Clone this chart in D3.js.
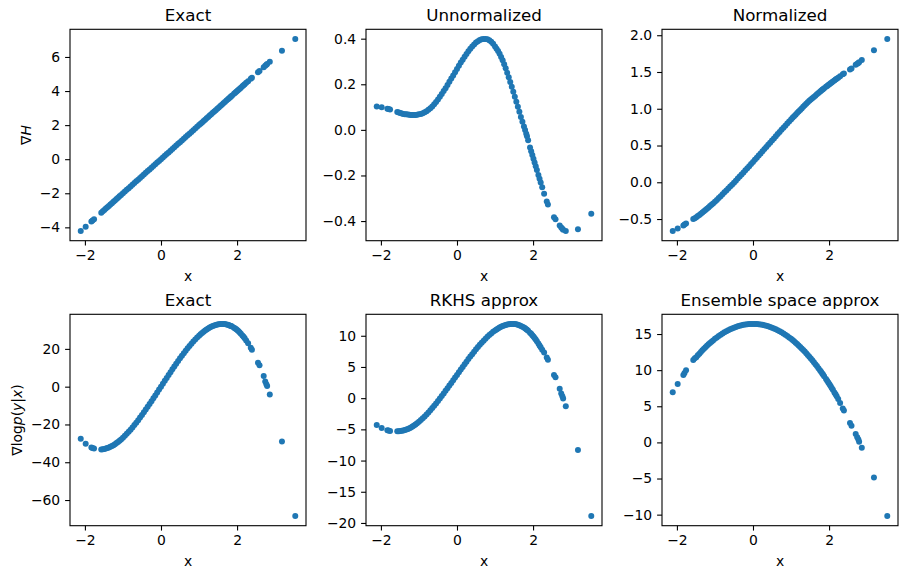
<!DOCTYPE html>
<html>
<head>
<meta charset="utf-8">
<script src="https://cdn.jsdelivr.net/npm/d3@7"></script>
<style>
  body { margin: 0; background: #fff; }
  svg { display: block; font-family: "DejaVu Sans", sans-serif; }
</style>
</head>
<body>
<div id="chart"></div>
<script>
// x samples, shared by all six panels
var xs = [
    -2.11, -1.98, -1.83, -1.80, -1.76, -1.57, -1.53, -1.49, -1.45, -1.41, -1.37, -1.33, -1.29, -1.25, -1.21, -1.17, -1.13, -1.09, -1.05, -1.00,
    -0.95, -0.90, -0.85, -0.80, -0.75, -0.70, -0.65, -0.60, -0.55, -0.50, -0.45, -0.40, -0.35, -0.30, -0.25, -0.20, -0.15, -0.10, -0.05, 0.00,
    0.05, 0.10, 0.15, 0.20, 0.25, 0.30, 0.35, 0.40, 0.45, 0.50, 0.55, 0.60, 0.65, 0.70, 0.75, 0.80, 0.85, 0.90, 0.95, 1.00,
    1.04, 1.08, 1.12, 1.16, 1.20, 1.24, 1.28, 1.32, 1.36, 1.40, 1.44, 1.48, 1.52, 1.56, 1.60, 1.64, 1.68, 1.72,
    1.76, 1.79, 1.82, 1.84, 1.87, 1.92, 1.95, 1.98, 2.01, 2.04, 2.07, 2.10, 2.14, 2.17, 2.20, 2.24, 2.29, 2.36, 2.39, 2.55, 2.59, 2.70, 2.74, 2.77, 2.79, 2.86, 3.18, 3.53
];

// top row: grad H
var gradHExact = [
    -4.22, -3.96, -3.66, -3.60, -3.52, -3.14, -3.06, -2.98, -2.90, -2.82, -2.74, -2.66, -2.58, -2.50, -2.42, -2.34, -2.26, -2.18, -2.10, -2.00,
    -1.90, -1.80, -1.70, -1.60, -1.50, -1.40, -1.30, -1.20, -1.10, -1.00, -0.90, -0.80, -0.70, -0.60, -0.50, -0.40, -0.30, -0.20, -0.10, 0.00,
    0.10, 0.20, 0.30, 0.40, 0.50, 0.60, 0.70, 0.80, 0.90, 1.00, 1.10, 1.20, 1.30, 1.40, 1.50, 1.60, 1.70, 1.80, 1.90, 2.00,
    2.08, 2.16, 2.24, 2.32, 2.40, 2.48, 2.56, 2.64, 2.72, 2.80, 2.88, 2.96, 3.04, 3.12, 3.20, 3.28, 3.36, 3.44,
    3.52, 3.58, 3.64, 3.68, 3.74, 3.84, 3.90, 3.96, 4.02, 4.08, 4.14, 4.20, 4.28, 4.34, 4.40, 4.48, 4.58, 4.72, 4.78, 5.10, 5.18, 5.40, 5.48, 5.54, 5.58, 5.72, 6.36, 7.06
];
var gradHUnnorm = [
    0.102, 0.099, 0.093, 0.091, 0.089, 0.078, 0.076, 0.074, 0.072, 0.070, 0.069, 0.068, 0.067, 0.066, 0.065, 0.065, 0.065, 0.065, 0.066, 0.068,
    0.070, 0.073, 0.077, 0.082, 0.088, 0.095, 0.103, 0.112, 0.122, 0.133, 0.145, 0.157, 0.170, 0.183, 0.197, 0.211, 0.225, 0.239, 0.253, 0.267,
    0.281, 0.295, 0.308, 0.321, 0.333, 0.345, 0.356, 0.366, 0.375, 0.383, 0.389, 0.394, 0.397, 0.399, 0.399, 0.397, 0.393, 0.387, 0.378, 0.366,
    0.356, 0.346, 0.334, 0.320, 0.305, 0.288, 0.270, 0.251, 0.231, 0.210, 0.189, 0.167, 0.145, 0.123, 0.101, 0.079, 0.057, 0.036,
    0.015, -0.001, -0.017, -0.028, -0.045, -0.077, -0.094, -0.110, -0.127, -0.143, -0.160, -0.176, -0.198, -0.214, -0.231, -0.252, -0.280, -0.314, -0.327, -0.383, -0.392, -0.420, -0.428, -0.434, -0.438, -0.444, -0.436, -0.368
];
var gradHNorm = [
    -0.664, -0.630, -0.587, -0.576, -0.562, -0.500, -0.488, -0.475, -0.460, -0.444, -0.428, -0.411, -0.394, -0.377, -0.360, -0.342, -0.324, -0.306, -0.288, -0.265,
    -0.240, -0.215, -0.189, -0.163, -0.137, -0.111, -0.085, -0.058, -0.032, -0.005, 0.022, 0.050, 0.078, 0.106, 0.134, 0.162, 0.190, 0.218, 0.247, 0.276,
    0.305, 0.334, 0.363, 0.392, 0.421, 0.451, 0.480, 0.509, 0.539, 0.568, 0.597, 0.626, 0.655, 0.684, 0.713, 0.742, 0.770, 0.798, 0.826, 0.854,
    0.876, 0.898, 0.920, 0.942, 0.963, 0.984, 1.005, 1.026, 1.047, 1.068, 1.088, 1.108, 1.126, 1.144, 1.160, 1.178, 1.196, 1.214,
    1.231, 1.244, 1.257, 1.265, 1.278, 1.298, 1.310, 1.322, 1.334, 1.346, 1.358, 1.370, 1.385, 1.397, 1.408, 1.423, 1.442, 1.468, 1.479, 1.535, 1.549, 1.598, 1.613, 1.624, 1.632, 1.662, 1.795, 1.950
];

// bottom row: grad log p(y|x)
var scoreExact = [
    -27.6, -30.2, -32.2, -32.5, -32.75, -33.2, -33.1, -32.96, -32.76, -32.5, -32.18, -31.82, -31.4, -30.94, -30.42, -29.86, -29.26, -28.61, -27.92, -27.0,
    -26.02, -24.98, -23.89, -22.75, -21.56, -20.33, -19.05, -17.74, -16.38, -15.0, -13.59, -12.14, -10.68, -9.19, -7.69, -6.17, -4.64, -3.1, -1.55, 0.0,
    1.55, 3.1, 4.64, 6.17, 7.69, 9.19, 10.68, 12.14, 13.59, 15.0, 16.38, 17.74, 19.05, 20.33, 21.56, 22.75, 23.89, 24.98, 26.02, 27.0,
    27.74, 28.44, 29.1, 29.72, 30.29, 30.81, 31.29, 31.72, 32.1, 32.42, 32.7, 32.91, 33.07, 33.17, 33.22, 33.2, 33.11, 32.97,
    32.75, 32.55, 32.31, 32.12, 31.81, 31.21, 30.79, 30.33, 29.83, 29.28, 28.69, 28.06, 27.14, 26.4, 25.61, 24.48, 23.0, 20.6, 19.6, 12.6, 11.3, 5.6, 2.7, 1.3, 0.4, -4.2, -29.0, -68.5
];
var scoreRKHS = [
    -4.3, -4.8, -5.15, -5.2, -5.25, -5.3, -5.3, -5.28, -5.24, -5.19, -5.12, -5.04, -4.93, -4.82, -4.69, -4.54, -4.38, -4.21, -4.03, -3.78,
    -3.51, -3.23, -2.93, -2.61, -2.28, -1.94, -1.59, -1.22, -0.84, -0.45, -0.06, 0.35, 0.76, 1.17, 1.59, 2.01, 2.44, 2.87, 3.30, 3.73,
    4.16, 4.59, 5.01, 5.43, 5.85, 6.26, 6.66, 7.05, 7.44, 7.82, 8.19, 8.54, 8.88, 9.21, 9.53, 9.83, 10.11, 10.38, 10.63, 10.86,
    11.02, 11.18, 11.32, 11.45, 11.56, 11.66, 11.74, 11.81, 11.85, 11.89, 11.90, 11.90, 11.87, 11.83, 11.77, 11.69, 11.58, 11.46,
    11.31, 11.19, 11.05, 10.95, 10.79, 10.50, 10.31, 10.10, 9.88, 9.64, 9.39, 9.13, 8.75, 8.45, 8.14, 7.75, 7.33, 6.5, 6.15, 3.7, 3.35, 1.5, 0.75, 0.3, -0.05, -1.28, -8.3, -18.9
];
var scoreEnsemble = [
    6.93, 8.09, 9.33, 9.6, 10.0, 11.4, 11.65, 11.80, 12.05, 12.28, 12.51, 12.74, 12.96, 13.17, 13.37, 13.57, 13.76, 13.94, 14.12, 14.33,
    14.53, 14.72, 14.90, 15.08, 15.24, 15.39, 15.53, 15.65, 15.77, 15.88, 15.98, 16.07, 16.15, 16.21, 16.27, 16.32, 16.35, 16.38, 16.39, 16.40,
    16.39, 16.38, 16.35, 16.32, 16.27, 16.21, 16.15, 16.07, 15.98, 15.88, 15.77, 15.65, 15.53, 15.39, 15.24, 15.08, 14.90, 14.72, 14.53, 14.33,
    14.16, 13.99, 13.80, 13.61, 13.42, 13.22, 13.01, 12.79, 12.57, 12.34, 12.11, 11.87, 11.62, 11.36, 11.10, 10.83, 10.56, 10.28,
    9.99, 9.77, 9.54, 9.39, 9.16, 8.77, 8.53, 8.28, 8.04, 7.79, 7.53, 7.27, 6.92, 6.65, 6.38, 6.01, 5.45, 4.7, 4.4, 2.7, 2.3, 1.15, 0.7, 0.4, 0.1, -0.74, -4.85, -10.2
];

var titles = ["Exact", "Unnormalized", "Normalized", "Exact", "RKHS approx", "Ensemble space approx"];
var xTicks = [-2, 0, 2];
var yTicks = [
    [-4, -2, 0, 2, 4, 6],
    [-0.4, -0.2, 0, 0.2, 0.4],
    [-0.5, 0, 0.5, 1, 1.5, 2],
    [-60, -40, -20, 0, 20],
    [-20, -15, -10, -5, 0, 5, 10],
    [-10, -5, 0, 5, 10, 15]
];
var yFormats = ["d", ".1f", ".1f", "d", "d", "d"];

var series = [gradHExact, gradHUnnorm, gradHNorm, scoreExact, scoreRKHS, scoreEnsemble];

var width = 899;
var height = 568;
var panelW = 236;
var panelH = 211.4;
var lefts = [70, 366, 662];
var tops = [29.3, 314.3];
var dotColor = "#1f77b4";
var tickFont = 13.9;

var svg = d3.select("#chart").append("svg")
    .attr("width", width)
    .attr("height", height);

// matplotlib style autoscale: 5% margin on each side
function padded(ext) {
    var p = (ext[1] - ext[0]) * 0.05;
    return [ext[0] - p, ext[1] + p];
}

var xScale = d3.scaleLinear()
    .domain(padded(d3.extent(xs)))
    .range([0, panelW]);

series.forEach(function (ys, i) {
    var g = svg.append("g")
        .attr("transform", "translate(" + lefts[i % 3] + "," + tops[Math.floor(i / 3)] + ")");

    var yScale = d3.scaleLinear()
        .domain(padded(d3.extent(ys)))
        .range([panelH, 0]);

    // points
    g.append("g").selectAll("circle")
        .data(xs)
        .enter()
        .append("circle")
        .attr("cx", function (d) { return xScale(d); })
        .attr("cy", function (d, j) { return yScale(ys[j]); })
        .attr("r", 3)
        .attr("fill", dotColor);

    // axes
    var xAxis = g.append("g")
        .attr("transform", "translate(0," + panelH + ")")
        .call(d3.axisBottom(xScale).tickValues(xTicks).tickFormat(d3.format("d"))
            .tickSize(4.9).tickSizeOuter(0).tickPadding(4.9));

    var yAxis = g.append("g")
        .call(d3.axisLeft(yScale).tickValues(yTicks[i]).tickFormat(d3.format(yFormats[i]))
            .tickSize(4.9).tickSizeOuter(0).tickPadding(4.9));

    [xAxis, yAxis].forEach(function (ax) {
        ax.select(".domain").remove();
        ax.attr("font-family", null).attr("font-size", null);
        ax.selectAll("line").attr("stroke", "#000").attr("stroke-width", 1.1);
        ax.selectAll("text").attr("fill", "#000").style("font-size", tickFont + "px");
    });

    // frame
    g.append("rect")
        .attr("width", panelW)
        .attr("height", panelH)
        .attr("fill", "none")
        .attr("stroke", "#000")
        .attr("stroke-width", 1.1);

    g.append("text")
        .attr("x", panelW / 2)
        .attr("y", -8.3)
        .attr("text-anchor", "middle")
        .style("font-size", "16.7px")
        .text(titles[i]);

    g.append("text")
        .attr("x", panelW / 2)
        .attr("y", panelH + 40.5)
        .attr("text-anchor", "middle")
        .style("font-size", tickFont + "px")
        .text("x");

    if (i % 3 == 0) {
        var bb = yAxis.node().getBBox();
        var lab = g.append("text")
            .attr("transform", "translate(" + (bb.x - 5.6) + "," + (panelH / 2) + ") rotate(-90)")
            .attr("text-anchor", "middle")
            .attr("dy", "-0.24em")
            .style("font-size", tickFont + "px");
        var parts = i == 0
            ? [["\u2207", false], ["H", true]]
            : [["\u2207log", false], ["p", true], ["(", false], ["y", true], ["|", false], ["x", true], [")", false]];
        parts.forEach(function (p) {
            lab.append("tspan")
                .style("font-style", p[1] ? "italic" : "normal")
                .text(p[0]);
        });
    }
});
</script>
</body>
</html>
